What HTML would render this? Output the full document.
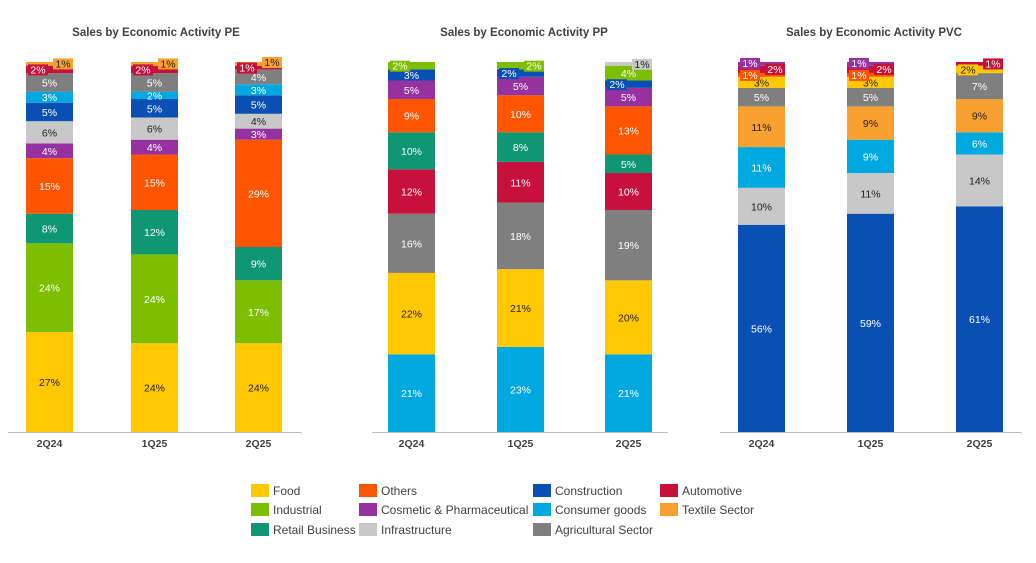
<!DOCTYPE html>
<html><head><meta charset="utf-8">
<style>
body{margin:0;background:#fff;width:1036px;height:558px;overflow:hidden;font-family:"Liberation Sans",sans-serif;}
svg text{font-family:"Liberation Sans",sans-serif;}
</style></head>
<body>
<svg id="c" width="1036" height="558"></svg>
<script>
const colors={Food:"#FFC800",Others:"#FF5500",Construction:"#0A50B4",Automotive:"#C8103C",Industrial:"#7DBE00","Cosmetic & Pharmaceutical":"#9632A0","Consumer goods":"#00A8E0","Textile Sector":"#F8A030","Retail Business":"#0F9673",Infrastructure:"#C8C8C8","Agricultural Sector":"#7F7F7F"};
const darkText={Food:1,Infrastructure:1,"Textile Sector":1};
const periods=["2Q24","1Q25","2Q25"];
const peCats=["Food","Industrial","Retail Business","Others","Cosmetic & Pharmaceutical","Infrastructure","Construction","Consumer goods","Agricultural Sector","Automotive","Textile Sector"];
const peVals=[[27,24,8,15,4,6,5,3,5,2,1],[24,24,12,15,4,6,5,2,5,2,1],[24,17,9,29,3,4,5,3,4,1,1]];
const ppCats=["Consumer goods","Food","Agricultural Sector","Automotive","Retail Business","Others","Cosmetic & Pharmaceutical","Construction","Industrial","Infrastructure"];
const ppVals=[[21,22,16,12,10,9,5,3,2,0],[23,21,18,11,8,10,5,2,2,0],[21,20,19,10,5,13,5,2,4,1]];
const pvcCats=["Construction","Infrastructure","Consumer goods","Textile Sector","Agricultural Sector","Food","Others","Automotive","Cosmetic & Pharmaceutical"];
const pvcVals=[[56,10,11,11,5,3,1,2,1],[59,11,9,9,5,3,1,2,1],[61,14,6,9,7,2,0,1,0]];
const legendOrder=[["Food","Industrial","Retail Business"],["Others","Cosmetic & Pharmaceutical","Infrastructure"],["Construction","Consumer goods","Agricultural Sector"],["Automotive","Textile Sector"]];

const svg=document.getElementById('c');
const NS="http://www.w3.org/2000/svg";
function mk(t,a){const e=document.createElementNS(NS,t);for(const k in a)e.setAttribute(k,a[k]);svg.appendChild(e);return e;}
const base=432, H=370;
function y(v){return base-v/100*H;}
function chart(title,tx,axisX0,axisX1,barXs,cats,vals,key){
  const t=mk('text',{x:tx,y:36,'text-anchor':'middle','font-size':'11.5','font-weight':'bold',fill:'#404040'});
  t.textContent=title;
  
  
  const labels=[];
  vals.forEach((vs,i)=>{
    let cum=0;const bx=barXs[i],bw=47;
    vs.forEach((v,j)=>{
      if(v<=0)return;
      const r=mk('rect',{x:bx,y:y(cum+v),width:bw,height:y(cum)-y(cum+v),fill:colors[cats[j]]});
      
      
      labels.push({i,j,v,cum,bx,bw});
      cum+=v;
    });
    const c=mk('text',{x:bx+bw/2,y:447,'text-anchor':'middle','font-size':'10.5','font-weight':'bold',fill:'#404040'});
    c.textContent=periods[i];
    
    
  });
  let lastBar=-1, side=0, prevY=0;
  labels.forEach(o=>{
    const {i,j,v,cum,bx,bw}=o;
    const dark=darkText[cats[j]];
    let lx=bx+bw/2, ly=(y(cum)+y(cum+v))/2+4;
    if(i!==lastBar){lastBar=i;side=0;}
    if(v<=2 && cum+v>=94){
      lx=(side%2==0)?bx+12:bx+bw-10;
      ly=Math.max(66,Math.min(ly,prevY-6));
      side++;
      const b=mk('rect',{x:lx-10,y:ly-9,width:20,height:11,fill:colors[cats[j]]});
      
      
    }
    prevY=ly;
    const l=mk('text',{x:lx,y:ly,'text-anchor':'middle','font-size':'10.5',fill:dark?'#222':'#fff'});
    l.textContent=v+'%';
    
    
  });
  const a=mk('line',{x1:axisX0,x2:axisX1,y1:base+0.5,y2:base+0.5,stroke:'#bfbfbf','stroke-width':1});
  
  
}
chart("Sales by Economic Activity PE",156,8,302,[26,131,235],peCats,peVals,'pe');
chart("Sales by Economic Activity PP",524,372,668,[388,497,605],ppCats,ppVals,'pp');
chart("Sales by Economic Activity PVC",874,720,1022,[738,847,956],pvcCats,pvcVals,'pvc');

const colX=[251,359,533,660], rowY=[490,509,529];
legendOrder.forEach((col,ci)=>col.forEach((name,ri)=>{
  const r=mk('rect',{x:colX[ci],y:rowY[ri]-6,width:18,height:13,fill:colors[name]});
  
  
  const t=mk('text',{x:colX[ci]+22,y:rowY[ri]+5,'font-size':'12',fill:'#404040'});
  t.textContent=name;
  
  
}));
</script>
</body></html>
